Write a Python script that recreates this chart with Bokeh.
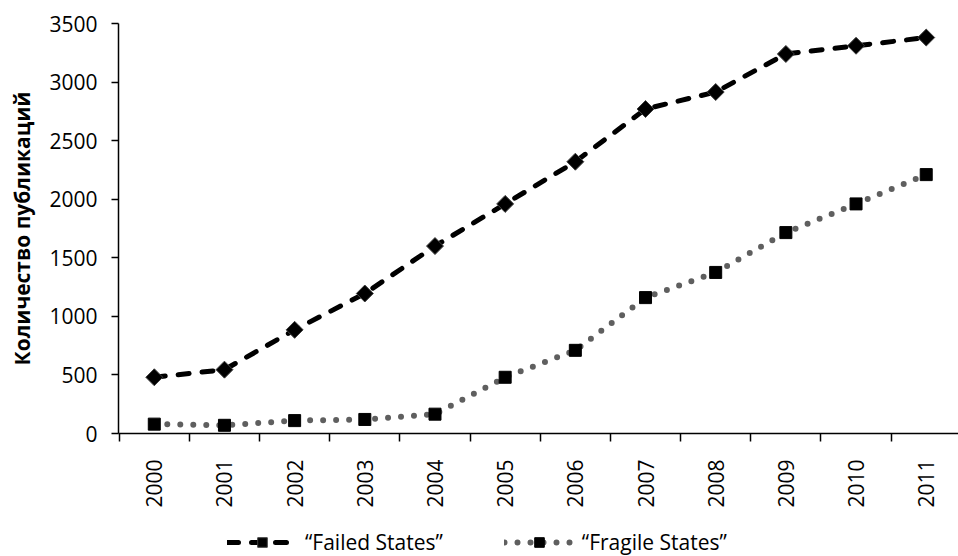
from math import pi
from bokeh.plotting import figure
from bokeh.layouts import column
from bokeh.models import Range1d, FixedTicker, Legend, LegendItem, ColumnDataSource
from bokeh.embed import file_html
from bokeh.resources import INLINE

years = [2000, 2001, 2002, 2003, 2004, 2005, 2006, 2007, 2008, 2009, 2010, 2011]
year_labels = [str(y) for y in years]
failed_states = [480, 545, 885, 1195, 1600, 1960, 2320, 2770, 2915, 3240, 3310, 3380]
fragile_states = [80, 70, 110, 120, 165, 480, 710, 1160, 1375, 1715, 1960, 2210]
series_names = ["\u201cFailed States\u201d", "\u201cFragile States\u201d"]
y_title = "Количество публикаций"

FONT = "Open Sans"

src = ColumnDataSource(dict(x=years, failed=failed_states, fragile=fragile_states))

FAILED_STYLE = dict(line_color="black", line_width=5, line_dash="11 13", line_cap="round")
FAILED_MARK = dict(marker="square", size=12, angle=pi / 4, fill_color="black",
                   line_color="#404040", line_width=1)
FRAGILE_STYLE = dict(line_color="#5f5f5f", line_width=6, line_dash="0 13", line_cap="round")
FRAGILE_MARK = dict(marker="square", size=12, fill_color="black", line_color="black",
                    line_width=1)

p = figure(width=958, height=520, output_backend="svg", toolbar_location=None,
           x_range=Range1d(1999.49, 2011.46), y_range=Range1d(0, 3500),
           min_border_left=118, min_border_right=0, min_border_top=23, min_border_bottom=87)
p.outline_line_color = None
p.grid.grid_line_color = None

p.line("x", "failed", source=src, **FAILED_STYLE)
p.scatter("x", "failed", source=src, **FAILED_MARK)
p.line("x", "fragile", source=src, **FRAGILE_STYLE)
p.scatter("x", "fragile", source=src, **FRAGILE_MARK)

# y axis
ya = p.yaxis[0]
ya.ticker = FixedTicker(ticks=list(range(0, 3501, 500)))
ya.axis_line_color = "black"
ya.axis_line_width = 1.5
ya.major_tick_line_color = "black"
ya.major_tick_line_width = 1.5
ya.major_tick_out = 7
ya.major_tick_in = 0
ya.minor_tick_line_color = None
ya.major_label_standoff = 14
ya.major_label_text_font = FONT
ya.major_label_text_font_size = "21px"
ya.major_label_text_color = "black"
ya.axis_label = y_title
ya.axis_label_text_font = FONT
ya.axis_label_text_font_size = "21px"
ya.axis_label_text_font_style = "bold"
ya.axis_label_text_color = "black"
ya.axis_label_standoff = 10

# x axis
xa = p.xaxis[0]
xa.ticker = FixedTicker(ticks=years, minor_ticks=[1999.5 + i for i in range(13)])
xa.major_label_overrides = {y: lab for y, lab in zip(years, year_labels)}
xa.major_label_orientation = pi / 2
xa.axis_line_color = "black"
xa.axis_line_width = 1.5
xa.major_tick_line_color = None
xa.major_tick_out = 0
xa.major_tick_in = 0
xa.minor_tick_line_color = "black"
xa.minor_tick_line_width = 1.5
xa.minor_tick_out = 8
xa.minor_tick_in = 0
xa.major_label_standoff = 18
xa.major_label_text_font = FONT
xa.major_label_text_font_size = "21px"
xa.major_label_text_color = "black"

# legend strip below the chart (its renderers lie outside its own view)
pl = figure(width=958, height=36, output_backend="svg", toolbar_location=None,
            x_range=Range1d(0, 1), y_range=Range1d(0, 1),
            min_border_left=0, min_border_right=0, min_border_top=0, min_border_bottom=0)
pl.axis.visible = False
pl.grid.grid_line_color = None
pl.outline_line_color = None
g1 = pl.line("x", "failed", source=src, **FAILED_STYLE)
s1 = pl.scatter("x", "failed", source=src, **FAILED_MARK)
g2 = pl.line("x", "fragile", source=src, **FRAGILE_STYLE)
s2 = pl.scatter("x", "fragile", source=src, **FRAGILE_MARK)

legend = Legend(items=[LegendItem(label=series_names[0], renderers=[g1, s1]),
                       LegendItem(label=series_names[1], renderers=[g2, s2])],
                orientation="horizontal", location=(109, 0),
                glyph_width=70, glyph_height=24, label_height=24,
                label_standoff=8, spacing=61, padding=0, margin=0,
                label_text_font=FONT, label_text_font_size="21px",
                label_text_color="black",
                border_line_color=None, background_fill_alpha=0)
pl.add_layout(legend, "center")

layout = column(p, pl, spacing=0)
open("out.html", "w").write(file_html(layout, INLINE))
